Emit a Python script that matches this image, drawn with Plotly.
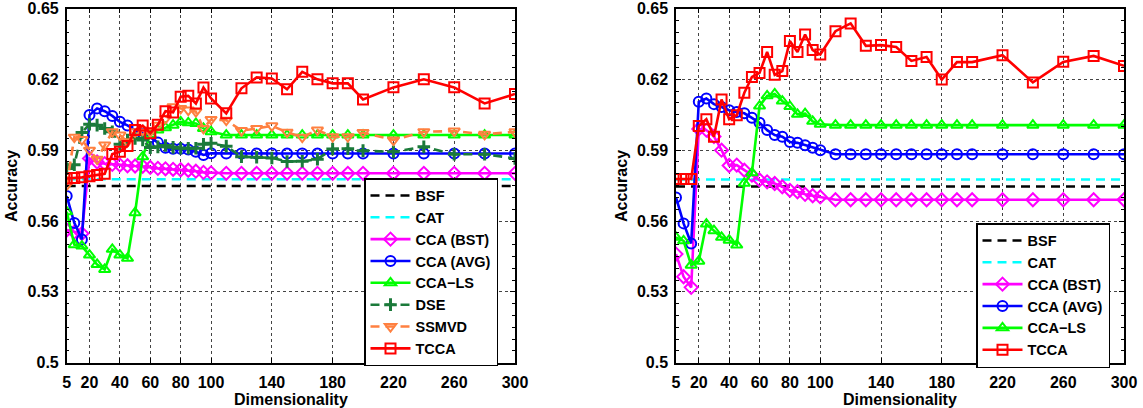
import plotly.graph_objects as go
from plotly.subplots import make_subplots

# Sampled dimensionalities (shared by both panels)
dims = [5, 10, 15, 20, 25, 30, 35, 40, 45, 50, 55, 60, 65, 70, 75, 80, 85, 90, 95, 100,
        110, 120, 130, 140, 150, 160, 170, 180, 190, 200,
        220, 240, 260, 280, 300]

x_ticks = [5, 20, 40, 60, 80, 100, 140, 180, 220, 260, 300]
y_ticks = [0.5, 0.53, 0.56, 0.59, 0.62, 0.65]
y_tick_text = ["0.5", "0.53", "0.56", "0.59", "0.62", "0.65"]

# ---- left panel ----
bsf_left = [0.5748, 0.5748, 0.5748, 0.5748, 0.5748, 0.5748, 0.5748, 0.5748, 0.5748, 0.5748,
            0.5748, 0.5748, 0.5748, 0.5748, 0.5748, 0.5748, 0.5748, 0.5748, 0.5748, 0.5748,
            0.5748, 0.5748, 0.5748, 0.5748, 0.5748, 0.5748, 0.5748, 0.5748, 0.5748, 0.5748,
            0.5748, 0.5748, 0.5748, 0.5748, 0.5748]
cat_left = [0.5777, 0.5777, 0.5777, 0.5777, 0.5777, 0.5777, 0.5777, 0.5777, 0.5777, 0.5777,
            0.5777, 0.5777, 0.5777, 0.5777, 0.5777, 0.5777, 0.5777, 0.5777, 0.5777, 0.5777,
            0.5777, 0.5777, 0.5777, 0.5777, 0.5777, 0.5777, 0.5777, 0.5777, 0.5777, 0.5777,
            0.5777, 0.5777, 0.5777, 0.5777, 0.5777]
cca_bst_left = [0.5562, 0.5553, 0.5547, 0.5865, 0.5850, 0.5843, 0.5840, 0.5837, 0.5834, 0.5833,
                0.5832, 0.5827, 0.5823, 0.5821, 0.5819, 0.5817, 0.5815, 0.5811, 0.5806, 0.5804,
                0.5802, 0.5802, 0.5802, 0.5802, 0.5802, 0.5802, 0.5802, 0.5802, 0.5802, 0.5802,
                0.5802, 0.5802, 0.5802, 0.5802, 0.5802]
cca_avg_left = [0.5706, 0.5592, 0.5522, 0.6049, 0.6077, 0.6065, 0.6045, 0.6020, 0.6005, 0.5985,
                0.5972, 0.5955, 0.5932, 0.5910, 0.5906, 0.5906, 0.5903, 0.5893, 0.5880, 0.5887,
                0.5886, 0.5886, 0.5886, 0.5886, 0.5886, 0.5886, 0.5886, 0.5886, 0.5886, 0.5886,
                0.5886, 0.5886, 0.5886, 0.5886, 0.5886]
cca_ls_left = [0.5639, 0.5500, 0.5494, 0.5456, 0.5416, 0.5395, 0.5480, 0.5456, 0.5442, 0.5635,
               0.5872, 0.5966, 0.5985, 0.5995, 0.6006, 0.6020, 0.6016, 0.6013, 0.5992, 0.5978,
               0.5964, 0.5964, 0.5964, 0.5964, 0.5964, 0.5964, 0.5964, 0.5964, 0.5964, 0.5964,
               0.5964, 0.5964, 0.5964, 0.5964, 0.5964]
dse_left = [0.5822, 0.5838, 0.5975, 0.6010, 0.6006, 0.5992, 0.5978, 0.5925, 0.5943, 0.5950,
            0.5943, 0.5911, 0.5914, 0.5920, 0.5912, 0.5908, 0.5908, 0.5908, 0.5925, 0.5929,
            0.5917, 0.5872, 0.5870, 0.5867, 0.5852, 0.5853, 0.5862, 0.5905, 0.5906, 0.5898,
            0.5893, 0.5914, 0.5883, 0.5883, 0.5865]
ssmvd_left = [0.5752, 0.5955, 0.5945, 0.5900, 0.5862, 0.5922, 0.5978, 0.5964, 0.5936, 0.5978,
              0.5985, 0.5978, 0.6006, 0.6034, 0.6084, 0.6077, 0.6070, 0.6063, 0.5992, 0.6030,
              0.6027, 0.5983, 0.5992, 0.6003, 0.5976, 0.5955, 0.5985, 0.5957, 0.5957, 0.5975,
              0.5943, 0.5978, 0.5981, 0.5967, 0.5978]
tcca_left = [0.5780, 0.5782, 0.5785, 0.5790, 0.5795, 0.5800, 0.5884, 0.5893, 0.5918, 0.5985,
             0.6004, 0.5972, 0.6008, 0.6065, 0.6060, 0.6126, 0.6130, 0.6098, 0.6165, 0.6119,
             0.6056, 0.6162, 0.6208, 0.6204, 0.6158, 0.6232, 0.6200, 0.6183, 0.6183, 0.6115,
             0.6166, 0.6200, 0.6166, 0.6098, 0.6138]

# ---- right panel ----
bsf_right = [0.5746, 0.5746, 0.5746, 0.5746, 0.5746, 0.5746, 0.5746, 0.5746, 0.5746, 0.5746,
             0.5746, 0.5746, 0.5746, 0.5746, 0.5746, 0.5746, 0.5746, 0.5746, 0.5746, 0.5746,
             0.5746, 0.5746, 0.5746, 0.5746, 0.5746, 0.5746, 0.5746, 0.5746, 0.5746, 0.5746,
             0.5746, 0.5746, 0.5746, 0.5746, 0.5746]
cat_right = [0.5776, 0.5776, 0.5776, 0.5776, 0.5776, 0.5776, 0.5776, 0.5776, 0.5776, 0.5776,
             0.5776, 0.5776, 0.5776, 0.5776, 0.5776, 0.5776, 0.5776, 0.5776, 0.5776, 0.5776,
             0.5776, 0.5776, 0.5776, 0.5776, 0.5776, 0.5776, 0.5776, 0.5776, 0.5776, 0.5776,
             0.5776, 0.5776, 0.5776, 0.5776, 0.5776]
cca_bst_right = [0.5460, 0.5364, 0.5319, 0.5990, 0.5985, 0.5958, 0.5900, 0.5835, 0.5837, 0.5815,
                 0.5794, 0.5774, 0.5766, 0.5759, 0.5745, 0.5730, 0.5724, 0.5713, 0.5707, 0.5702,
                 0.5690, 0.5690, 0.5690, 0.5690, 0.5690, 0.5690, 0.5690, 0.5690, 0.5690, 0.5690,
                 0.5690, 0.5690, 0.5690, 0.5690, 0.5690]
cca_avg_right = [0.5700, 0.5590, 0.5505, 0.6105, 0.6119, 0.6095, 0.6083, 0.6069, 0.6062, 0.6056,
                 0.6037, 0.6016, 0.5985, 0.5964, 0.5957, 0.5935, 0.5931, 0.5921, 0.5910, 0.5900,
                 0.5883, 0.5883, 0.5883, 0.5883, 0.5883, 0.5883, 0.5883, 0.5883, 0.5883, 0.5883,
                 0.5883, 0.5883, 0.5883, 0.5883, 0.5883]
cca_ls_right = [0.5531, 0.5516, 0.5413, 0.5430, 0.5587, 0.5559, 0.5531, 0.5519, 0.5498, 0.5760,
                0.5804, 0.6087, 0.6130, 0.6138, 0.6108, 0.6085, 0.6052, 0.6055, 0.6022, 0.6010,
                0.6006, 0.6006, 0.6006, 0.6006, 0.6006, 0.6006, 0.6006, 0.6006, 0.6006, 0.6006,
                0.6006, 0.6006, 0.6006, 0.6006, 0.6006]
tcca_right = [0.5778, 0.5778, 0.5778, 0.6002, 0.6031, 0.5957, 0.6115, 0.6031, 0.6048, 0.6143,
              0.6210, 0.6227, 0.6316, 0.6219, 0.6235, 0.6362, 0.6316, 0.6390, 0.6324, 0.6305,
              0.6404, 0.6437, 0.6342, 0.6345, 0.6337, 0.6278, 0.6295, 0.6199, 0.6273, 0.6273,
              0.6302, 0.6187, 0.6274, 0.6299, 0.6257]

FONT = "Liberation Sans"
W, H = 1143, 408

STYLES = {
    "BSF":       dict(color="#000000", dash="9px,6px", symbol=None),
    "CAT":       dict(color="#00ffff", dash="9px,6px", symbol=None),
    "CCA (BST)": dict(color="#ff00ff", dash="solid", symbol="diamond-open"),
    "CCA (AVG)": dict(color="#0000ff", dash="solid", symbol="circle-open"),
    "CCA\u2212LS": dict(color="#00ff00", dash="solid", symbol="triangle-up-open"),
    "DSE":       dict(color="#1b7a3a", dash="9px,6px", symbol="cross-thin-open"),
    "SSMVD":     dict(color="#ff8040", dash="9px,6px", symbol="triangle-down-open"),
    "TCCA":      dict(color="#ff0000", dash="solid", symbol="square-open"),
}

left_series = [("BSF", bsf_left), ("CAT", cat_left), ("CCA (BST)", cca_bst_left),
               ("CCA (AVG)", cca_avg_left), ("CCA\u2212LS", cca_ls_left), ("DSE", dse_left),
               ("SSMVD", ssmvd_left), ("TCCA", tcca_left)]
right_series = [("BSF", bsf_right), ("CAT", cat_right), ("CCA (BST)", cca_bst_right),
                ("CCA (AVG)", cca_avg_right), ("CCA\u2212LS", cca_ls_right), ("TCCA", tcca_right)]

fig = make_subplots(rows=1, cols=2)


def add_series(name, values, col, legend):
    st = STYLES[name]
    kw = dict(x=dims, y=values, name=name, legend=legend,
              line=dict(color=st["color"], width=2.6, dash=st["dash"]))
    if st["symbol"] is None:
        kw["mode"] = "lines"
    else:
        kw["mode"] = "lines+markers"
        size = 9 if st["symbol"] == "cross-thin-open" else 10
        mlw = 3 if st["symbol"] == "cross-thin-open" else 2
        kw["marker"] = dict(symbol=st["symbol"], size=size, color=st["color"],
                            line=dict(color=st["color"], width=mlw))
    fig.add_trace(go.Scatter(**kw), row=1, col=col)


for name, vals in left_series:
    add_series(name, vals, 1, "legend")
for name, vals in right_series:
    add_series(name, vals, 2, "legend2")

y_dom = [1 - 362.7 / H, 1 - 8.5 / H]
x_doms = [[66.7 / W, 515.0 / W], [676.0 / W, 1124.0 / W]]

axis_common = dict(showline=True, linecolor="black", linewidth=1.5, mirror="allticks",
                   ticks="inside", ticklen=5, tickwidth=1, tickcolor="black",
                   showgrid=True, gridcolor="#444444", griddash="dot", gridwidth=1,
                   zeroline=False, automargin=False,
                   tickfont=dict(family=FONT, size=16, color="black", weight="bold"))

for i, suffix in enumerate(["", "2"]):
    fig.update_layout(**{
        "xaxis" + suffix: dict(axis_common, domain=x_doms[i], range=[5, 300],
                               tickmode="array", tickvals=x_ticks,
                               ticklabelstandoff=4),
        "yaxis" + suffix: dict(axis_common, domain=y_dom, range=[0.5, 0.65],
                               tickmode="array", tickvals=y_ticks, ticktext=y_tick_text,
                               ticklabelstandoff=3,
                               minor=dict(tickmode="linear", tick0=0.5, dtick=0.005,
                                          ticks="inside", ticklen=3, tickcolor="black",
                                          showgrid=False)),
    })

legend_common = dict(bgcolor="white", bordercolor="black", borderwidth=1.5,
                     font=dict(family=FONT, size=14.5, color="black", weight="bold"),
                     tracegroupgap=0, itemwidth=40, xanchor="left", yanchor="top")

fig.update_layout(
    width=W, height=H,
    margin=dict(l=0, r=0, t=0, b=0, autoexpand=False),
    paper_bgcolor="white", plot_bgcolor="white",
    legend=dict(legend_common, x=364 / W, y=1 - 178 / H),
    legend2=dict(legend_common, x=976 / W, y=1 - 223 / H),
)

# Axis titles
title_font = dict(family=FONT, size=16, color="black", weight="bold")
for cx in [(66.7 + 515) / 2, (676 + 1124) / 2]:
    fig.add_annotation(text="Dimensionality", x=cx / W, y=1 - 399 / H, xref="paper", yref="paper",
                       showarrow=False, font=title_font, xanchor="center", yanchor="middle")
for cx in [12, 622]:
    fig.add_annotation(text="Accuracy", x=cx / W, y=1 - 186 / H, xref="paper", yref="paper",
                       showarrow=False, font=title_font, textangle=-90,
                       xanchor="center", yanchor="middle")

fig.write_html("out.html")
